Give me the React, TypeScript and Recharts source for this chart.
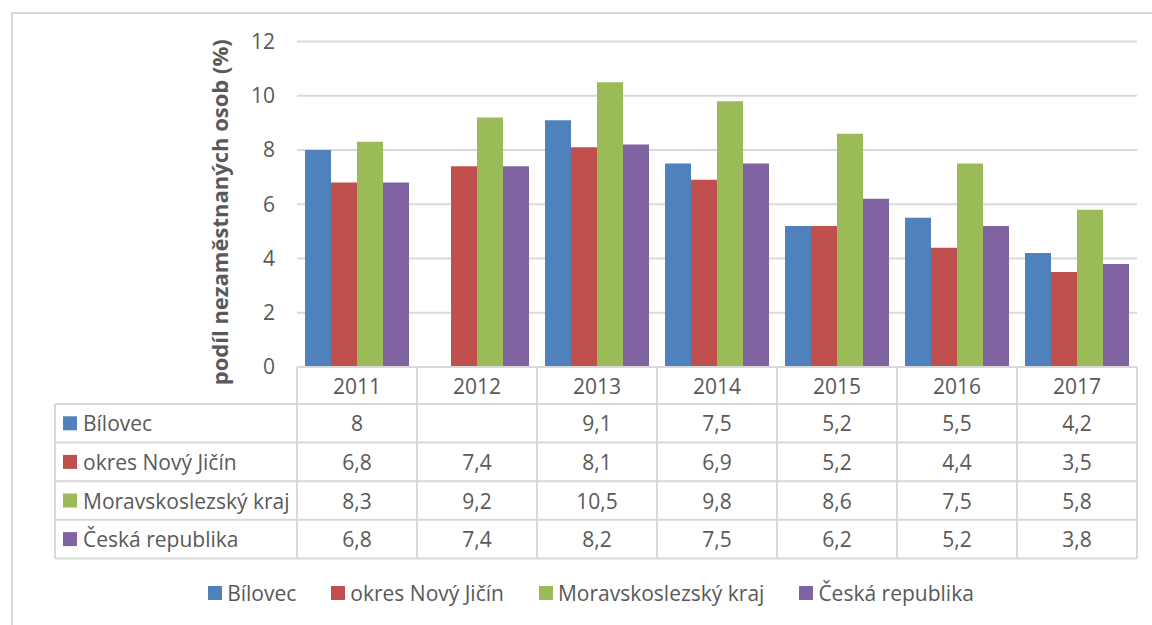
import React from 'react';
import { BarChart, Bar, XAxis, YAxis, CartesianGrid, Legend } from 'recharts';

const categories = ['2011', '2012', '2013', '2014', '2015', '2016', '2017'];
const bilovec: (number | null)[] = [8, null, 9.1, 7.5, 5.2, 5.5, 4.2];
const okresNovyJicin: number[] = [6.8, 7.4, 8.1, 6.9, 5.2, 4.4, 3.5];
const moravskoslezsky: number[] = [8.3, 9.2, 10.5, 9.8, 8.6, 7.5, 5.8];
const ceskaRepublika: number[] = [6.8, 7.4, 8.2, 7.5, 6.2, 5.2, 3.8];
const yTicks = [0, 2, 4, 6, 8, 10, 12];
const yTitle = 'podíl nezaměstnaných osob (%)';

const series = [
  { key: 'bilovec', name: 'Bílovec', color: '#4F81BD', values: bilovec },
  { key: 'okres', name: 'okres Nový Jičín', color: '#C0504D', values: okresNovyJicin },
  { key: 'msk', name: 'Moravskoslezský kraj', color: '#9BBB59', values: moravskoslezsky },
  { key: 'cr', name: 'Česká republika', color: '#8064A2', values: ceskaRepublika },
];

const data = categories.map((c, i) => {
  const row: Record<string, any> = { year: c };
  series.forEach((s) => {
    row[s.key] = s.values[i];
  });
  return row;
});

// layout
const W = 1152;
const H = 625;
const PLOT_LEFT = 297;
const PLOT_RIGHT = 1137;
const PLOT_TOP = 41.5;
const PLOT_BOTTOM = 367;
const COL_W = (PLOT_RIGHT - PLOT_LEFT) / categories.length;
const TABLE_LEFT = 55;
const HEADER_BOTTOM = 404;
const ROW_H = 38.6;
const FONT = '"Open Sans", sans-serif';
const TXT = '#595959';
const LINE = '#D9D9D9';
const FS = 21;

const fmt = (v: number | null | undefined) =>
  v === null || v === undefined ? '' : String(v).replace('.', ',');

const YearTick = (props: any) => {
  const { x, payload } = props;
  const idx = categories.indexOf(String(payload.value));
  return (
    <g>
      <text
        x={x}
        y={(PLOT_BOTTOM + HEADER_BOTTOM) / 2}
        textAnchor="middle"
        dominantBaseline="central"
        fontFamily={FONT}
        fontSize={FS}
        fill={TXT}
      >
        {payload.value}
      </text>
      {series.map((s, r) => (
        <text
          key={s.key}
          x={x}
          y={HEADER_BOTTOM + ROW_H * (r + 0.5)}
          textAnchor="middle"
          dominantBaseline="central"
          fontFamily={FONT}
          fontSize={FS}
          fill={TXT}
        >
          {fmt(s.values[idx])}
        </text>
      ))}
    </g>
  );
};

const YTitle = (props: any) => {
  const vb = props.viewBox || { x: 257, y: PLOT_TOP, width: 40, height: PLOT_BOTTOM - PLOT_TOP };
  const cx = vb.x - 38;
  const cy = vb.y + vb.height / 2 + 8;
  return (
    <text
      x={cx}
      y={cy}
      transform={`rotate(-90, ${cx}, ${cy})`}
      textAnchor="middle"
      dominantBaseline="central"
      fontFamily={FONT}
      fontWeight="bold"
      fontSize={22}
      fill={TXT}
    >
      {yTitle}
    </text>
  );
};

const LegendContent = () => {
  return (
    <div
      style={{
        display: 'flex',
        justifyContent: 'center',
        gap: 35,
        fontFamily: FONT,
        fontSize: FS,
        color: TXT,
        paddingLeft: 30,
      }}
    >
      {series.map((s) => (
        <div key={s.key} style={{ display: 'flex', alignItems: 'center' }}>
          <span style={{ display: 'inline-block', width: 14, height: 14, background: s.color, marginRight: 5 }} />
          <span>{s.name}</span>
        </div>
      ))}
    </div>
  );
};

const TableOverlay = () => {
  const rowsBottom = HEADER_BOTTOM + ROW_H * series.length;
  const lines: React.ReactNode[] = [];
  for (let r = 0; r <= series.length; r++) {
    const y = HEADER_BOTTOM + ROW_H * r;
    lines.push(<line key={'h' + r} x1={TABLE_LEFT} x2={PLOT_RIGHT} y1={y} y2={y} stroke={LINE} strokeWidth={2} />);
  }
  for (let c = 0; c <= categories.length; c++) {
    const x = PLOT_LEFT + COL_W * c;
    lines.push(<line key={'v' + c} x1={x} x2={x} y1={PLOT_BOTTOM} y2={rowsBottom} stroke={LINE} strokeWidth={2} />);
  }
  lines.push(<line key="vl" x1={TABLE_LEFT} x2={TABLE_LEFT} y1={HEADER_BOTTOM} y2={rowsBottom} stroke={LINE} strokeWidth={2} />);
  return (
    <svg width={W} height={H} style={{ position: 'absolute', left: 0, top: 0, pointerEvents: 'none' }}>
      {lines}
      {series.map((s, r) => {
        const cy = HEADER_BOTTOM + ROW_H * (r + 0.5);
        return (
          <g key={s.key}>
            <rect x={63} y={cy - 7} width={14} height={14} fill={s.color} />
            <text x={83} y={cy} dominantBaseline="central" fontFamily={FONT} fontSize={FS} fill={TXT}>
              {s.name}
            </text>
          </g>
        );
      })}
    </svg>
  );
};

export default function App() {
  return (
    <div style={{ position: 'absolute', left: 0, top: 0, width: W, height: H, background: '#fff', overflow: 'hidden' }}>
      <div
        style={{
          position: 'absolute',
          left: 11,
          top: 12,
          width: W,
          height: H,
          border: `2px solid ${LINE}`,
          boxSizing: 'border-box',
        }}
      />
      <BarChart
        width={W}
        height={H}
        data={data}
        margin={{ top: PLOT_TOP, right: W - PLOT_RIGHT, left: PLOT_LEFT - 40, bottom: H - PLOT_BOTTOM - 40 }}
        barCategoryGap="6.67%"
        barGap={0}
        style={{ position: 'absolute', left: 0, top: 0 }}
      >
        <CartesianGrid vertical={false} stroke={LINE} strokeWidth={2} />
        <XAxis
          dataKey="year"
          height={40}
          axisLine={{ stroke: LINE, strokeWidth: 2 }}
          tickLine={false}
          tick={<YearTick />}
          interval={0}
        />
        <YAxis
          width={40}
          domain={[0, 12]}
          ticks={yTicks}
          axisLine={false}
          tickLine={false}
          tickSize={0}
          tickMargin={22}
          tick={{ fontFamily: FONT, fontSize: FS, fill: TXT }}
          label={{ content: <YTitle /> }}
        />
        {series.map((s) => (
          <Bar key={s.key} dataKey={s.key} name={s.name} fill={s.color} isAnimationActive={false} />
        ))}
        <Legend
          layout="horizontal"
          verticalAlign="middle"
          align="center"
          content={<LegendContent />}
          wrapperStyle={{ position: 'absolute', top: 579, left: 0, width: W }}
        />
      </BarChart>
      <TableOverlay />
    </div>
  );
}
